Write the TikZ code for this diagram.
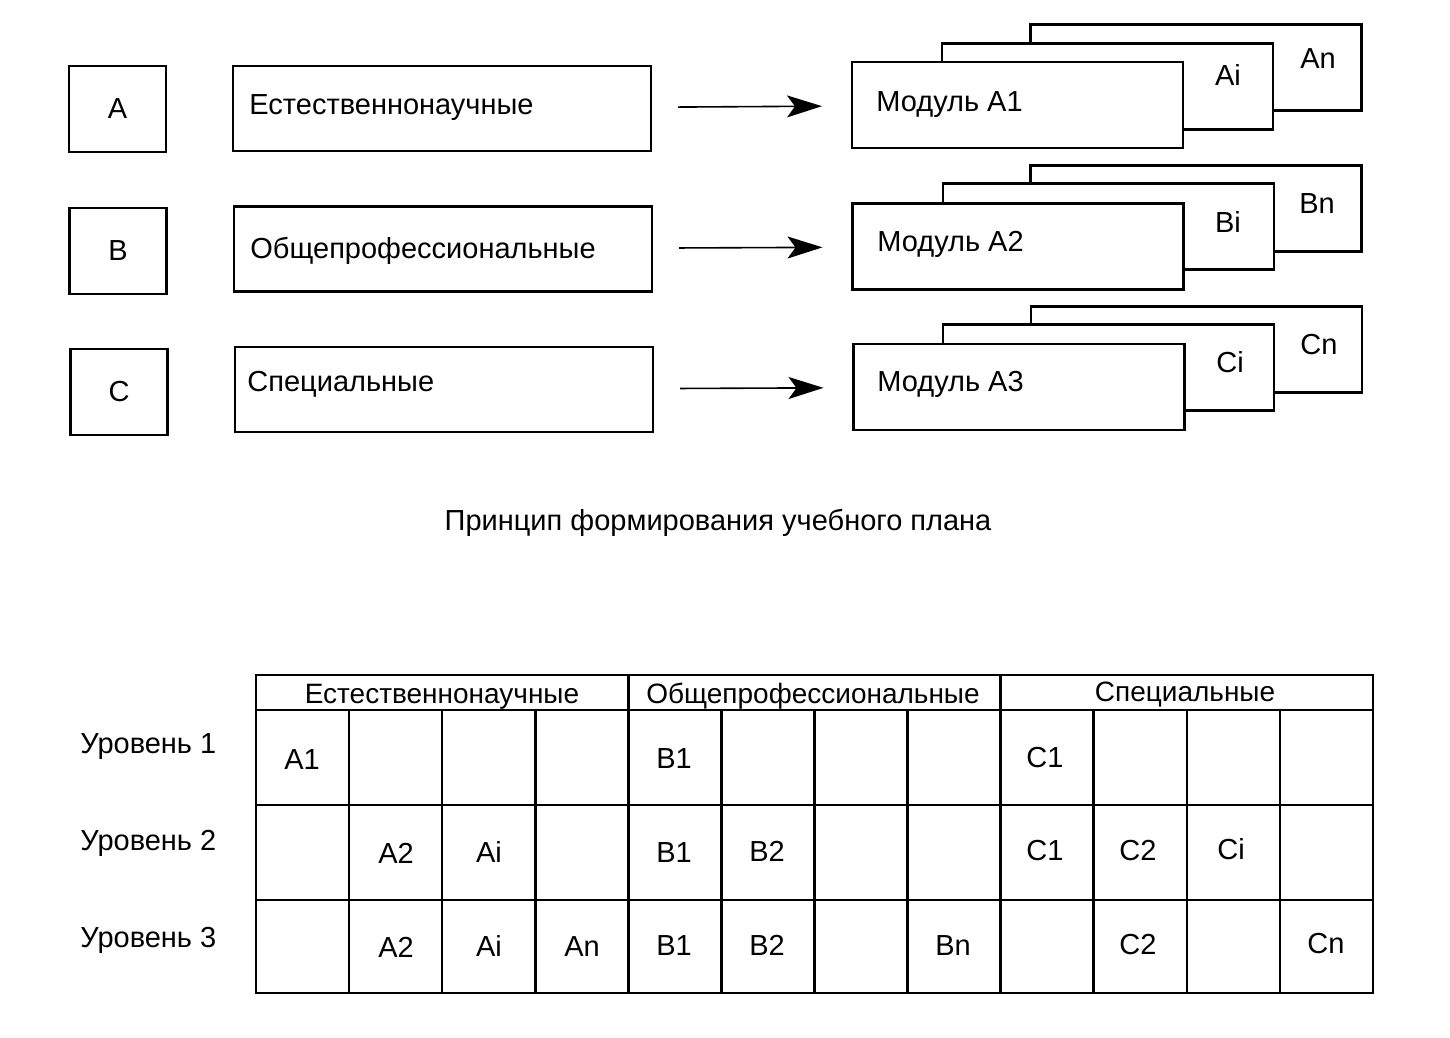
\documentclass[tikz,border=0pt]{standalone}
\usepackage{fontspec}
\setmainfont{Liberation Sans}
\usetikzlibrary{arrows.meta}
\begin{document}
\begin{tikzpicture}[x=0.5pt,y=-0.5pt,
  every node/.style={font=\fontsize{14.5}{16}\selectfont},
  box/.style={draw, line width=1.3pt, fill=white, inner sep=0pt, outer sep=0pt},
  letterbox/.style={box, minimum width=48.5pt, minimum height=43pt},
  catbox/.style={box, minimum width=209pt, minimum height=42.5pt},
  modbox/.style={box, minimum width=165.5pt, minimum height=43pt},
  cell/.style={inner sep=0pt, text height=10.4pt, text depth=0pt},
  lefttext/.style={cell, anchor=west},
  flow/.style={line width=0.8pt, -{Stealth[length=17.5pt,width=11pt,inset=4pt]}, shorten <=13.5pt, shorten >=15pt},
  grid/.style={line width=1.3pt},
  head/.style={cell, font=\fontsize{14}{16}\selectfont, text height=10pt}
]
\useasboundingbox (0,0) rectangle (1450,1038);

% ---- row A
\node[letterbox] (la) at (117.5,109) {A};
\node[catbox] (ca) at (442,108.5) {};
\node[lefttext] (tca) at (249,104) {Естественнонаучные};
\node[modbox] (ma3) at (1196,67.5) {};
\node[modbox] (ma2) at (1107.5,86.5) {};
\node[modbox] (ma1) at (1017.5,105) {};
\node[lefttext] (ta1) at (876,101) {Модуль A1};
\node[cell] (tai) at (1228,75) {Ai};
\node[cell] (tan) at (1318,58) {An};
\draw[flow] (ca) -- (ma1);

% ---- row B
\node[letterbox] (lb) at (118,251) {B};
\node[catbox] (cb) at (443,249) {};
\node[lefttext] (tcb) at (250,248) {Общепрофессиональные};
\node[modbox] (mb3) at (1196,208.5) {};
\node[modbox] (mb2) at (1108.5,226.5) {};
\node[modbox] (mb1) at (1018,246.5) {};
\node[lefttext] (tb1) at (877,241) {Модуль A2};
\node[cell] (tbi) at (1228,222) {Bi};
\node[cell] (tbn) at (1317,203) {Bn};
\draw[flow] (cb) -- (mb1);

% ---- row C
\node[letterbox] (lc) at (119,392) {C};
\node[catbox] (cc) at (444,389.5) {};
\node[lefttext] (tcc) at (247,381) {Специальные};
\node[modbox] (mc3) at (1196.5,349.5) {};
\node[modbox] (mc2) at (1108.5,367.5) {};
\node[modbox] (mc1) at (1019,387) {};
\node[lefttext] (tc1) at (877,381) {Модуль A3};
\node[cell] (tci) at (1230,362) {Ci};
\node[cell] (tcn) at (1319,344) {Cn};
\draw[flow] (cc) -- (mc1);

% ---- title
\node[cell] (title) at (718,520) {Принцип формирования учебного плана};

% ---- table grid
\draw[grid] (256,675) rectangle (1373,993);
\foreach \yy in {710,805,900} \draw[grid] (256,\yy) -- (1373,\yy);
\foreach \k in {4,8} \draw[grid] ({256+\k*93.08},675) -- ({256+\k*93.08},993);
\foreach \k in {1,2,3,5,6,7,9,10,11} \draw[grid] ({256+\k*93.08},710) -- ({256+\k*93.08},993);

% headers
\node[head] (h1) at (442,693) {Естественнонаучные};
\node[head] (h2) at (813,693) {Общепрофессиональные};
\node[head] (h3) at (1185,691) {Специальные};

% row labels
\node[lefttext] (r1) at (80,743) {Уровень 1};
\node[lefttext] (r2) at (80,840) {Уровень 2};
\node[lefttext] (r3) at (80,937) {Уровень 3};

% cells row 1
\node[cell] (c11) at (302,759) {A1};
\node[cell] (c15) at (674,758) {B1};
\node[cell] (c19) at (1045,757) {C1};
% cells row 2
\node[cell] (c22) at (396,853) {A2};
\node[cell] (c23) at (489,852) {Ai};
\node[cell] (c25) at (674,852) {B1};
\node[cell] (c26) at (767,851) {B2};
\node[cell] (c29) at (1045,850) {C1};
\node[cell] (c210) at (1138,850) {C2};
\node[cell] (c211) at (1231,849) {Ci};
% cells row 3
\node[cell] (c32) at (396,947) {A2};
\node[cell] (c33) at (489,946) {Ai};
\node[cell] (c34) at (582,946) {An};
\node[cell] (c35) at (674,945) {B1};
\node[cell] (c36) at (767,945) {B2};
\node[cell] (c38) at (953,945) {Bn};
\node[cell] (c310) at (1138,944) {C2};
\node[cell] (c312) at (1326,943) {Cn};
\end{tikzpicture}
\end{document}
